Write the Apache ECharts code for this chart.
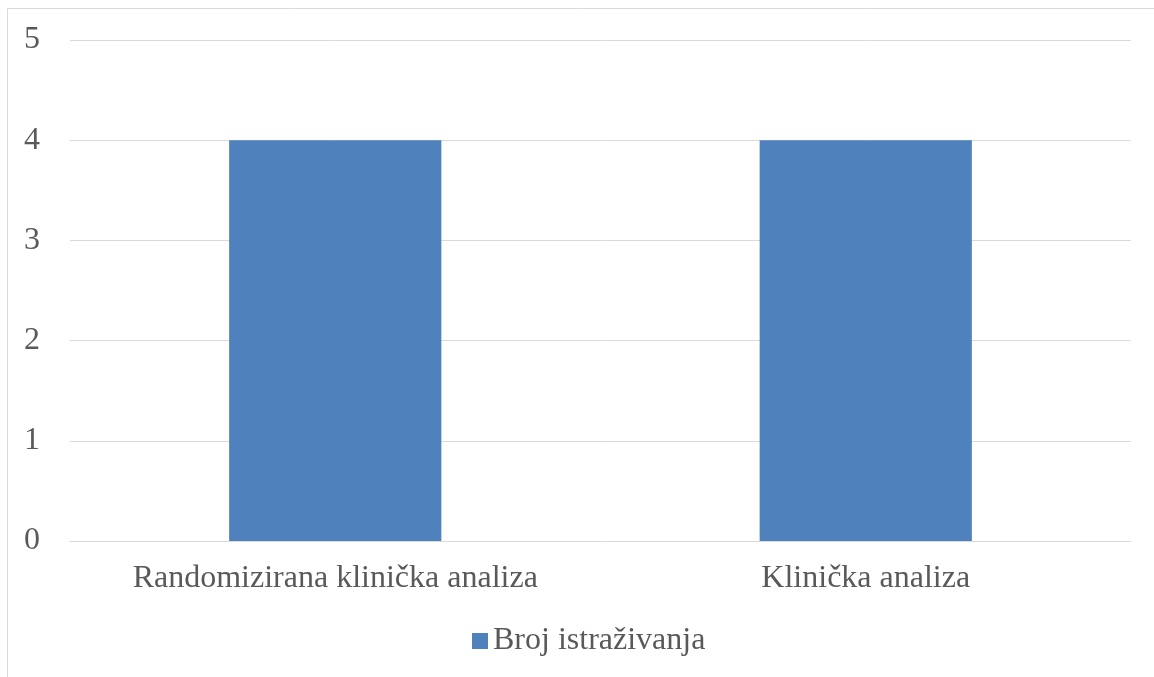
<!DOCTYPE html>
<html>
<head>
<meta charset="utf-8">
<script src="https://cdn.jsdelivr.net/npm/echarts@6/dist/echarts.min.js"></script>
<style>
html,body{margin:0;padding:0;background:#fff;}
#chart{width:1154px;height:677px;}
</style>
</head>
<body>
<div id="chart"></div>
<script>
const categories = ['Randomizirana klinička analiza', 'Klinička analiza'];
const seriesName = 'Broj istraživanja';
const values = [4, 4];
const yTicks = [0, 1, 2, 3, 4, 5];

const font = '"Liberation Serif", "Times New Roman", serif';
const chart = echarts.init(document.getElementById('chart'));
chart.setOption({
  animation: false,
  backgroundColor: '#ffffff',
  graphic: [{
    type: 'rect',
    shape: {x: 7.5, y: 8.5, width: 1200, height: 700},
    style: {fill: 'none', stroke: '#d9d9d9', lineWidth: 1},
    silent: true
  }],
  grid: {left: 70, right: 23, top: 40, bottom: 136, containLabel: false},
  legend: {
    top: 625,
    left: 472,
    padding: 0,
    itemWidth: 16, itemHeight: 16, itemGap: 10,
    icon: 'rect',
    textStyle: {fontFamily: font, fontSize: 32, color: '#595959'},
    data: [seriesName]
  },
  xAxis: {
    type: 'category',
    data: categories,
    axisLine: {lineStyle: {color: '#d9d9d9', width: 1}},
    axisTick: {show: false},
    axisLabel: {fontFamily: font, fontSize: 32, color: '#595959', margin: 22}
  },
  yAxis: {
    type: 'value',
    min: yTicks[0], max: yTicks[yTicks.length - 1], interval: 1,
    axisLine: {show: false},
    axisTick: {show: false},
    splitLine: {lineStyle: {color: '#d9d9d9', width: 1}},
    axisLabel: {fontFamily: font, fontSize: 32, color: '#595959', margin: 30}
  },
  series: [{
    name: seriesName,
    type: 'bar',
    data: values,
    barWidth: '40%',
    itemStyle: {color: '#4f81bd'}
  }]
});
</script>
</body>
</html>
